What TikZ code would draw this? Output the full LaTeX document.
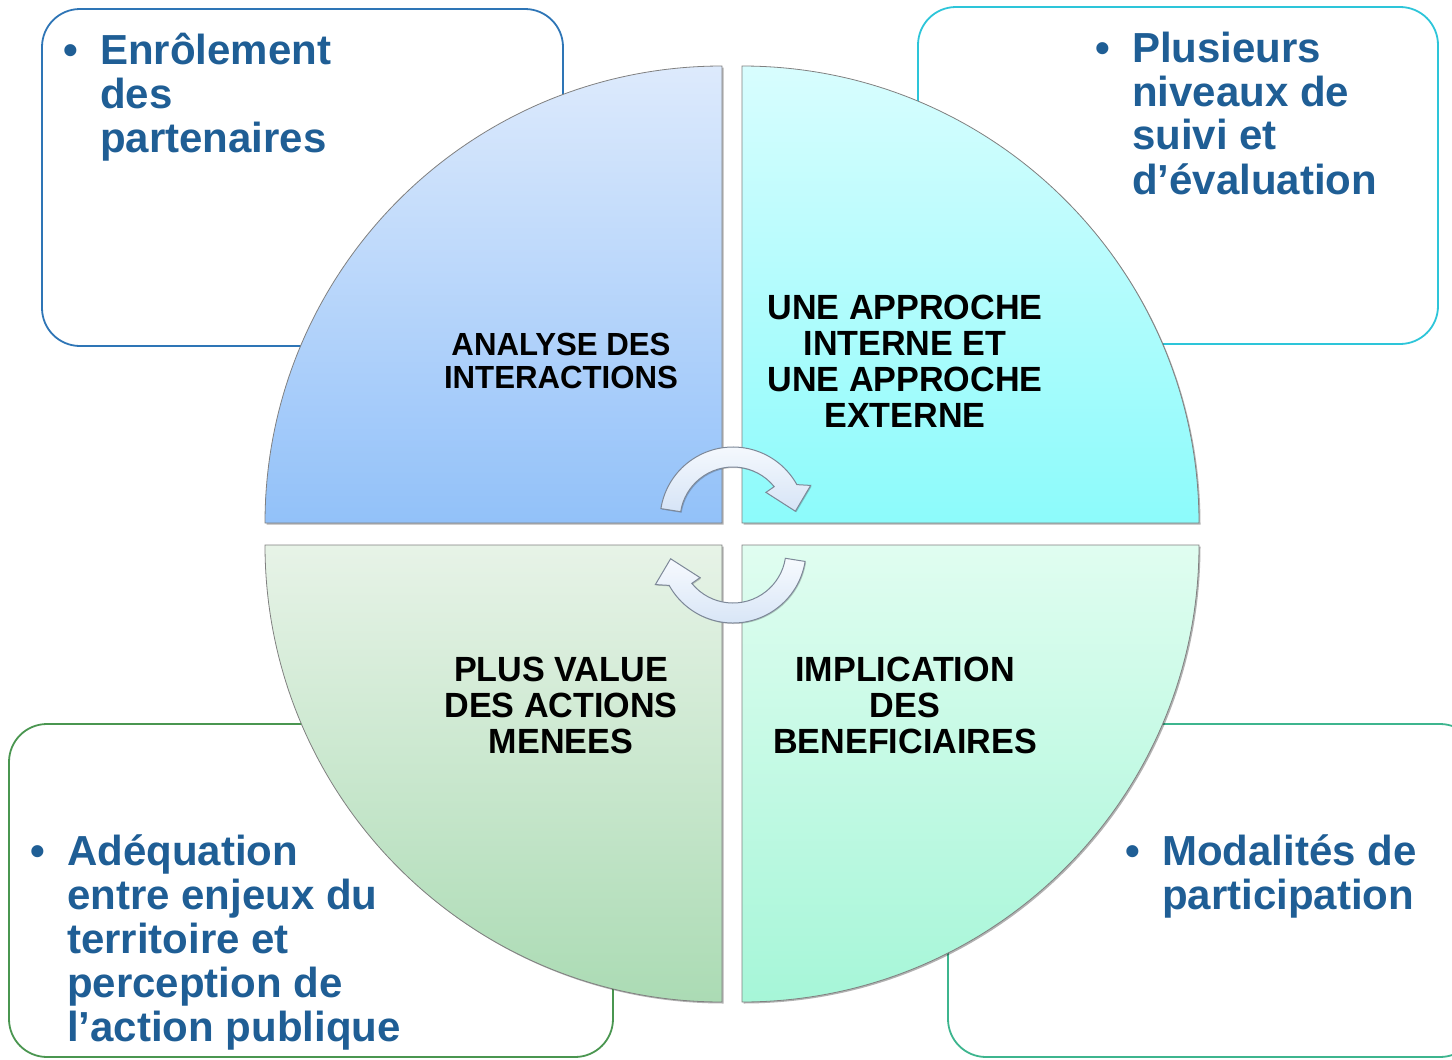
\documentclass[tikz,border=0pt]{standalone}
\usepackage{fontspec}
\setmainfont{Liberation Sans}
\newfontfamily\quadfont[FakeStretch=0.975]{Liberation Sans}
\usetikzlibrary{calc,shadows}
\definecolor{txtblue}{HTML}{1F5E95}
\definecolor{bTL}{HTML}{2E75B6}
\definecolor{bTR}{HTML}{2DC5D9}
\definecolor{bBL}{HTML}{4A9650}
\definecolor{bBR}{HTML}{3DB58E}
\definecolor{qTLa}{HTML}{DDEAFC}
\definecolor{qTLb}{HTML}{92C1F9}
\definecolor{qTRa}{HTML}{D8FDFE}
\definecolor{qTRb}{HTML}{8CFBFB}
\definecolor{qBLa}{HTML}{E7F3E7}
\definecolor{qBLb}{HTML}{ABDBB4}
\definecolor{qBRa}{HTML}{E0FDF0}
\definecolor{qBRb}{HTML}{A6F6D8}
\definecolor{arrA}{HTML}{F7FAFE}
\definecolor{arrB}{HTML}{D6E4F6}
\definecolor{arrline}{HTML}{7D8898}
\newcommand\cornerbullet{\makebox[37pt][l]{\textbullet}}
\begin{document}
\begin{tikzpicture}[x=1pt,y=-1pt,
  cbox/.style={rounded corners=38pt, line width=1.8pt, fill=white},
  quad/.style={draw=black!50, line width=0.8pt,
     drop shadow={shadow xshift=1.5pt, shadow yshift=-1.5pt, opacity=0.3, fill=black}},
  cornertxt/.style={anchor=base west, inner sep=0pt, text=txtblue,
     font=\fontsize{42}{44}\selectfont\bfseries},
  quadtxt/.style={align=center, inner sep=0pt,
     font=\quadfont\fontsize{35}{36}\selectfont\bfseries},
  cyc/.style={draw=arrline, line width=1pt, top color=arrA, bottom color=arrB,
     drop shadow={shadow xshift=1pt, shadow yshift=-1pt, opacity=0.2, fill=black}}]
\useasboundingbox (0,0) rectangle (1452,1060);
\begin{scope}
\clip (0,0) rectangle (1452,1060);
% corner boxes
\draw[cbox, draw=bTL] (42,9) rectangle (563,346);
\draw[cbox, draw=bTR] (918,7) rectangle (1438,344);
\draw[cbox, draw=bBL] (9,724) rectangle (613,1057);
\draw[cbox, draw=bBR] (948,724) rectangle (1478,1057);
% quadrants
\draw[quad, top color=qTLa, bottom color=qTLb]
  (722,523) -- (265,523) arc[start angle=180, end angle=270, radius=457] -- cycle;
\draw[quad, top color=qTRa, bottom color=qTRb]
  (742,523) -- (742,66) arc[start angle=270, end angle=360, radius=457] -- cycle;
\draw[quad, top color=qBLa, bottom color=qBLb]
  (722,545) -- (722,1002) arc[start angle=90, end angle=180, radius=457] -- cycle;
\draw[quad, top color=qBRa, bottom color=qBRb]
  (742,545) -- (1199,545) arc[start angle=0, end angle=90, radius=457] -- cycle;
% quadrant texts
\node[quadtxt, font=\quadfont\fontsize{32}{32.5}\selectfont\bfseries] (qtl) at (561,361) {ANALYSE DES\\INTERACTIONS};
\node[quadtxt] (qtr) at (905,361) {UNE APPROCHE\\INTERNE ET\\UNE APPROCHE\\EXTERNE};
\node[quadtxt] (qbl) at (561,705) {PLUS VALUE\\DES ACTIONS\\MENEES};
\node[quadtxt] (qbr) at (905,705) {IMPLICATION\\DES\\BENEFICIAIRES};
% circular arrows
\coordinate (c1) at (733,520);
\coordinate (c2) at (733,550);
\draw[cyc] ($(c1)+(189:73)$) arc[start angle=189, end angle=331, radius=73]
  -- ($(c1)+(336:85)$) -- ($(c1)+(352:63)$) -- ($(c1)+(320:43)$)
  -- ($(c1)+(321:53)$) arc[start angle=321, end angle=189, radius=53] -- cycle;
\draw[cyc] ($(c2)+(9:73)$) arc[start angle=9, end angle=151, radius=73]
  -- ($(c2)+(156:85)$) -- ($(c2)+(172:63)$) -- ($(c2)+(140:43)$)
  -- ($(c2)+(141:53)$) arc[start angle=141, end angle=9, radius=53] -- cycle;
% corner texts
\node[cornertxt] (ttl) at (63,64) {\begin{tabular}[t]{@{}l@{}l@{}}\cornerbullet & Enrôlement\\ & des\\ & partenaires\end{tabular}};
\node[cornertxt] (ttr) at (1095,62) {\begin{tabular}[t]{@{}l@{}l@{}}\cornerbullet & Plusieurs\\ & niveaux de\\ & suivi et\\ & d’évaluation\end{tabular}};
\node[cornertxt] (tbl) at (30,865) {\begin{tabular}[t]{@{}l@{}l@{}}\cornerbullet & Adéquation\\ & entre enjeux du\\ & territoire et\\ & perception de\\ & l’action publique\end{tabular}};
\node[cornertxt] (tbr) at (1125,865) {\begin{tabular}[t]{@{}l@{}l@{}}\cornerbullet & Modalités de\\ & participation\end{tabular}};
\end{scope}
\end{tikzpicture}
\end{document}
